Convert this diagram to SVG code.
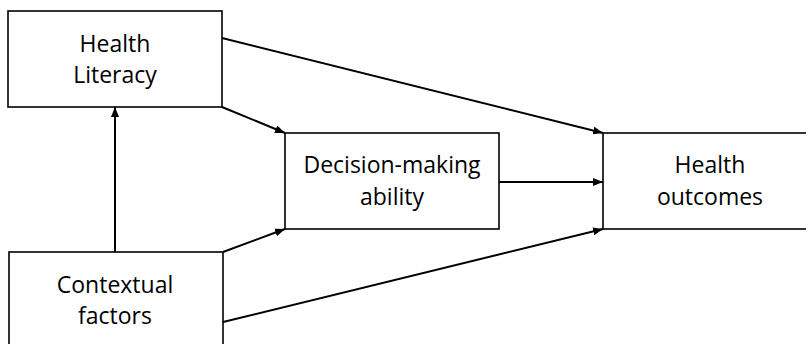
<svg xmlns="http://www.w3.org/2000/svg" width="806" height="344" viewBox="0 0 806 344">
  <defs>
    <marker id="arrow" viewBox="0 0 10 8" refX="10" refY="4" markerWidth="10" markerHeight="8" markerUnits="userSpaceOnUse" orient="auto">
      <path d="M0,0 L10,4 L0,8 Z" fill="#000"/>
    </marker>
  </defs>
  <style>
    .box { fill: #fff; stroke: #000; stroke-width: 1.6; }
    .lbl { font-family: "Open Sans", "Noto Sans", "Liberation Sans", sans-serif; font-size: 23px; fill: #000; text-anchor: middle; }
    .edge { stroke: #000; stroke-width: 2; fill: none; marker-end: url(#arrow); }
  </style>
  <rect width="806" height="344" fill="#fff"/>

  <g id="connectors">
    <line class="edge" x1="222" y1="38" x2="603" y2="133"/>
    <line class="edge" x1="222" y1="107" x2="285" y2="133"/>
    <line class="edge" x1="499" y1="182" x2="603" y2="182"/>
    <line class="edge" x1="223" y1="252" x2="285" y2="229"/>
    <line class="edge" x1="223" y1="322" x2="603" y2="229"/>
    <line class="edge" x1="115" y1="252" x2="115" y2="107"/>
  </g>

  <g id="health-literacy">
    <rect class="box" x="8" y="11" width="214" height="96"/>
    <text class="lbl" x="115" y="52">Health</text>
    <text class="lbl" x="115" y="83">Literacy</text>
  </g>

  <g id="decision-making">
    <rect class="box" x="285" y="133" width="214" height="96"/>
    <text class="lbl" x="392" y="173">Decision-making</text>
    <text class="lbl" x="392" y="205">ability</text>
  </g>

  <g id="health-outcomes">
    <rect class="box" x="603" y="133" width="214" height="96"/>
    <text class="lbl" x="710" y="173">Health</text>
    <text class="lbl" x="710" y="205">outcomes</text>
  </g>

  <g id="contextual-factors">
    <rect class="box" x="9" y="252" width="214" height="96"/>
    <text class="lbl" x="115" y="293">Contextual</text>
    <text class="lbl" x="115" y="324">factors</text>
  </g>
</svg>
